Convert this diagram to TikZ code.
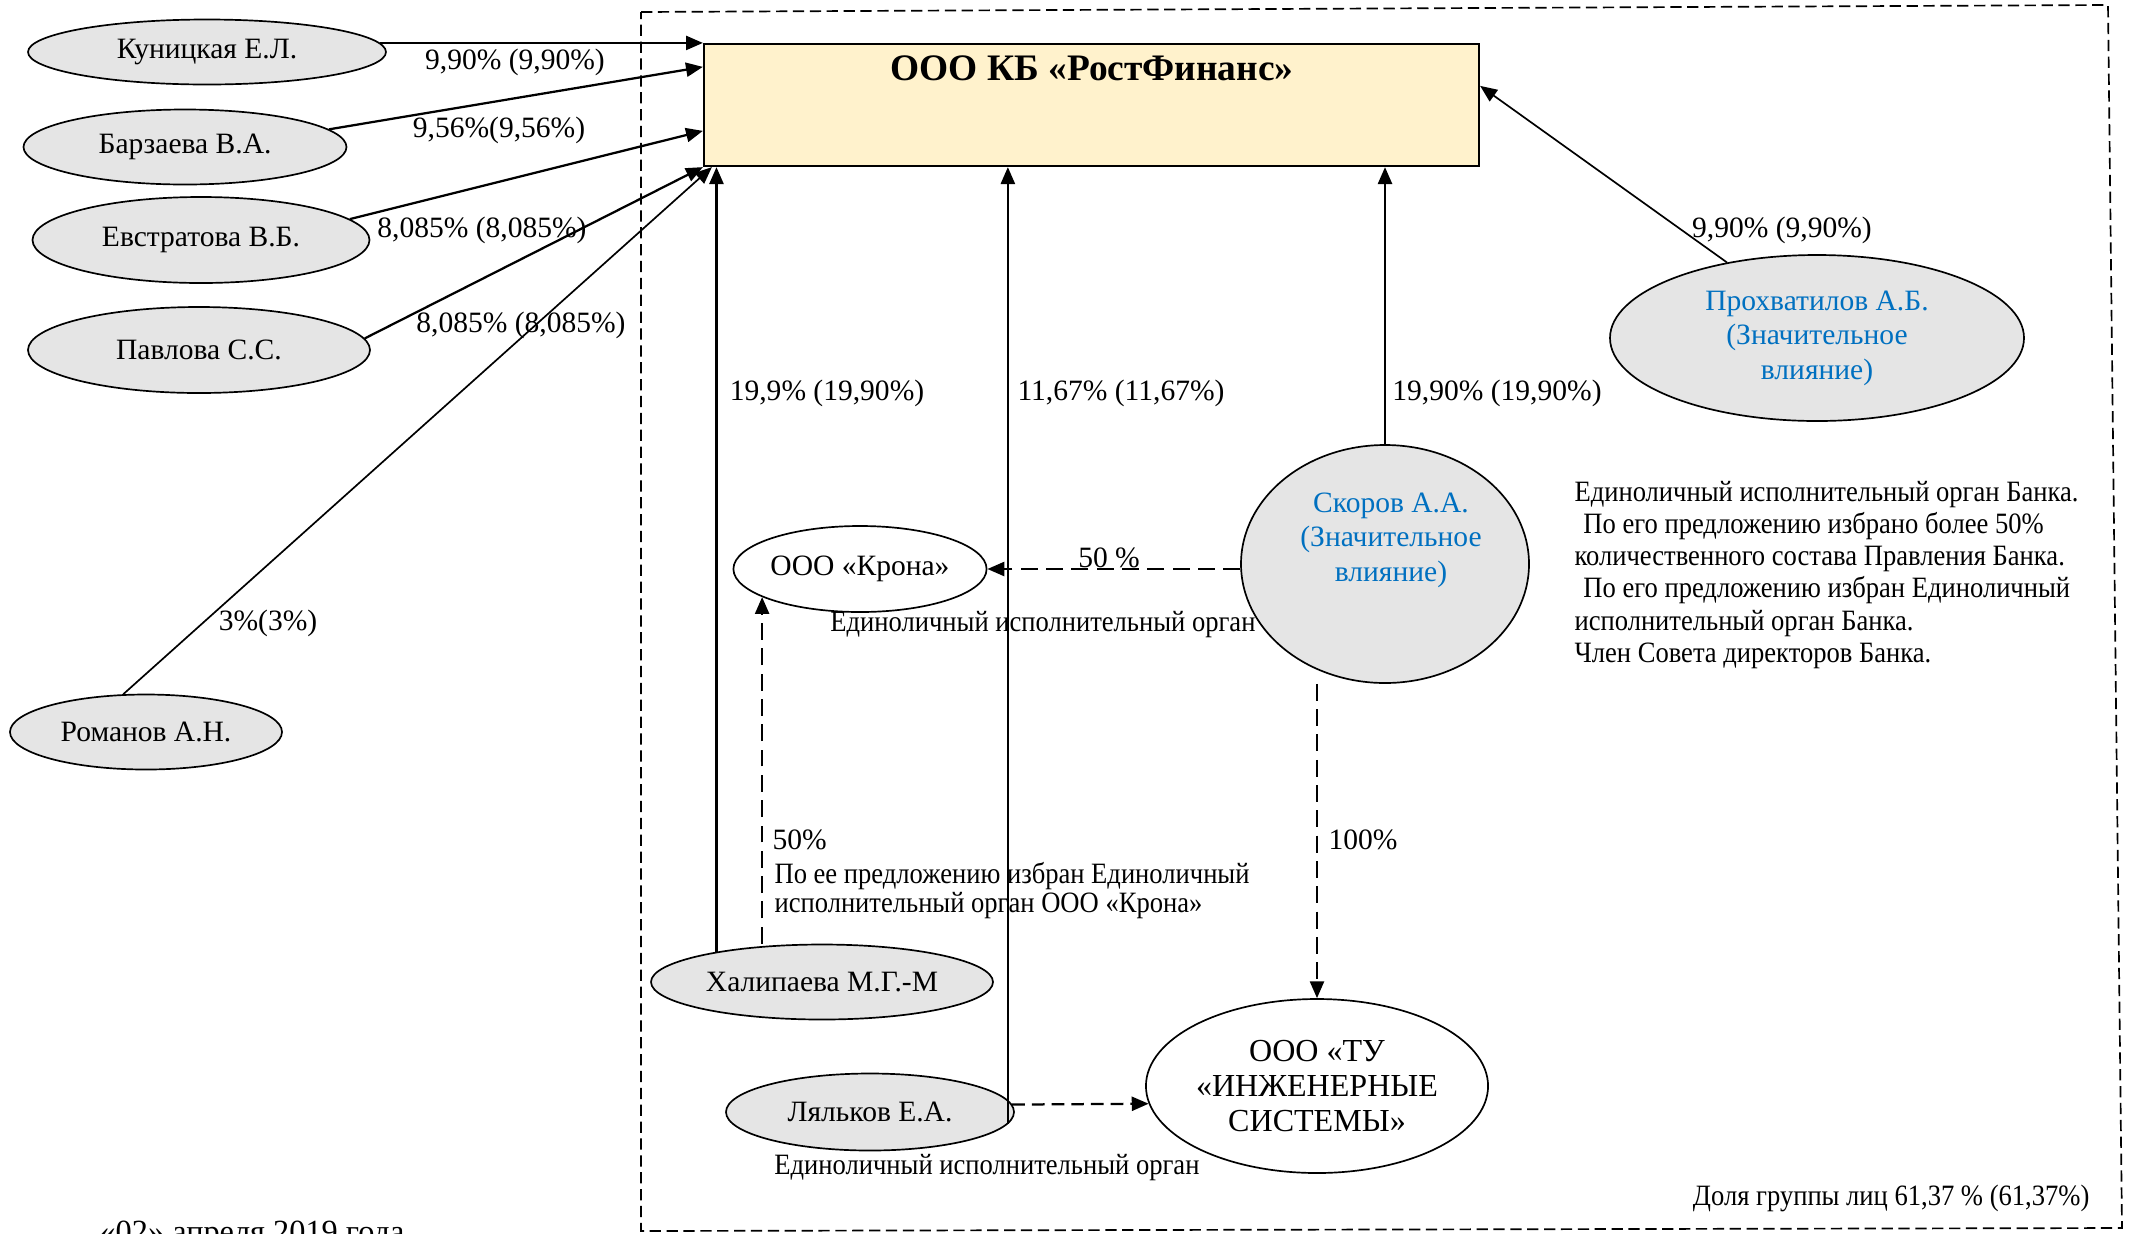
\documentclass[tikz,border=0pt]{standalone}
\usepackage{fontspec}
\setmainfont{Liberation Serif}
\newfontfamily\notefont[FakeStretch=0.9]{Liberation Serif}
\usetikzlibrary{arrows.meta}
\usetikzlibrary{shapes.geometric}
\definecolor{bankfill}{RGB}{255,242,204}
\definecolor{inflblue}{RGB}{0,112,192}
\newlength\pxu
\setlength\pxu{0.0125cm}

\begin{document}
\begin{tikzpicture}[x=0.0125cm,y=-0.0125cm,
pers/.style={ellipse,draw,line width=0.6pt,fill=gray!20,inner sep=0pt,align=center,font=\fontsize{10.5}{12.3}\selectfont},
firm/.style={pers,fill=white},
lbl/.style={inner sep=0pt,font=\fontsize{10.5}{12.3}\selectfont},
note/.style={inner sep=0pt,font=\notefont\fontsize{10.5}{11.4}\selectfont},
own/.style={line width=0.8pt,-{Triangle[length=6pt,width=5pt]}},
ctrl/.style={own,dash pattern=on 6pt off 3pt}]
\useasboundingbox (0,0) rectangle (2134,1233);
\draw[line width=0.6pt,dash pattern=on 4pt off 2pt] (641,12) -- (2108,5) -- (2122,1228) -- (641,1231) -- cycle;

\node[draw,line width=0.8pt,fill=bankfill,minimum width=775\pxu,minimum height=122\pxu,inner sep=0pt] (bank) at (1091.5,105) {};
\node[font=\bfseries\fontsize{13.3}{15}\selectfont] (banktitle) at (1092,68) {ООО КБ «РостФинанс»};

\node[pers,minimum width=358\pxu,minimum height=65\pxu] (kun) at (207,52) {Куницкая Е.Л.};
\node[pers,minimum width=323\pxu,minimum height=75\pxu] (bar) at (185,147) {Барзаева В.А.};
\node[pers,minimum width=337\pxu,minimum height=86\pxu] (evs) at (201,240) {Евстратова В.Б.};
\node[pers,minimum width=342\pxu,minimum height=86\pxu] (pav) at (199,350) {Павлова С.С.};
\node[pers,minimum width=272\pxu,minimum height=75\pxu] (rom) at (146,732) {Романов А.Н.};
\node[pers,text=inflblue,minimum width=414\pxu,minimum height=166\pxu] (pro) at (1817,338) {Прохватилов А.Б.\\(Значительное\\влияние)};
\node[pers,minimum width=288\pxu,minimum height=238\pxu] (sko) at (1385,564) {};
\node[lbl,text=inflblue,align=center] (skotext) at (1391,540) {Скоров А.А.\\(Значительное\\влияние)};
\node[firm,minimum width=238\pxu,minimum height=86\pxu] (kro) at (860,569) {ООО «Крона»};
\node[pers,minimum width=342\pxu,minimum height=75\pxu] (hal) at (822,982) {Халипаева М.Г.-М};
\node[pers,minimum width=288\pxu,minimum height=77\pxu] (lya) at (870,1112) {Ляльков Е.А.};
\node[firm,font=\fontsize{11.4}{12.3}\selectfont,minimum width=342\pxu,minimum height=174\pxu] (tu) at (1317,1086) {ООО «ТУ\\«ИНЖЕНЕРНЫЕ\\СИСТЕМЫ»};

\draw[own] (kun.3) -- (kun.3 -| bank.west);
\draw[own] (bar.7) -- ([yshift=-24\pxu]bank.north west);
\draw[own] (evs.8) -- ([yshift=-88\pxu]bank.north west);
\draw[own] (pav.4) -- (bank.south west);
\draw[own,line width=0.6pt] (rom.121) -- ([xshift=9\pxu]bank.south west);
\draw[own] (hal.164) -- (hal.164 |- bank.south);
\draw[own] (lya.-5) -- (lya.-5 |- bank.south);
\draw[own] (sko.north) -- (sko.north |- bank.south);
\draw[own,line width=0.6pt] (pro.140) -- ([yshift=-43\pxu]bank.north east);
\draw[ctrl] (sko.west |- kro.east) -- (kro.east);
\draw[ctrl] (kro.196 |- hal.north) -- (kro.196);
\draw[ctrl] (sko.south -| tu.north) -- (tu.north);
\draw[ctrl,dash pattern=on 4.5pt off 2.5pt] (lya.3) -- (tu.186);

\node[lbl] (lkun) at (515,62) {9,90\% (9,90\%)};
\node[lbl] (lbar) at (499,130) {9,56\%(9,56\%)};
\node[lbl] (levs) at (482,230) {8,085\% (8,085\%)};
\node[lbl] (lpav) at (521,325) {8,085\% (8,085\%)};
\node[lbl] (lrom) at (268,623) {3\%(3\%)};
\node[lbl] (lhal) at (827,393) {19,9\% (19,90\%)};
\node[lbl] (llya) at (1121,393) {11,67\% (11,67\%)};
\node[lbl] (lsko) at (1497,393) {19,90\% (19,90\%)};
\node[lbl] (lpro) at (1782,230) {9,90\% (9,90\%)};
\node[lbl] (lkro) at (1109,558) {50 \%};
\node[lbl] (ltu) at (1363,840) {100\%};
\node[lbl,anchor=west] (lhalkro) at (772,840) {50\%};
\node[note,anchor=north west,align=left,font=\notefont\fontsize{10.5}{10.3}\selectfont] (nhal) at (774,862) {По ее предложению избран Единоличный\\исполнительный орган ООО «Крона»};
\node[note] (nkro) at (1043,625) {Единоличный исполнительный орган};
\node[note] (nlya) at (987,1168) {Единоличный исполнительный орган};
\node[note,anchor=north west,align=left] (nsko) at (1574,481) {Единоличный исполнительный орган Банка.\\\hspace{0.3em}По его предложению избрано более 50\%\\количественного состава Правления Банка.\\\hspace{0.3em}По его предложению избран Единоличный\\исполнительный орган Банка.\\Член Совета директоров Банка.};
\node[note,anchor=east] (share) at (2090,1198) {Доля группы лиц 61,37 \% (61,37\%)};
\node[lbl,anchor=north,font=\fontsize{11.5}{13}\selectfont] (date) at (252,1220) {«02» апреля 2019 года};

\end{tikzpicture}
\end{document}
